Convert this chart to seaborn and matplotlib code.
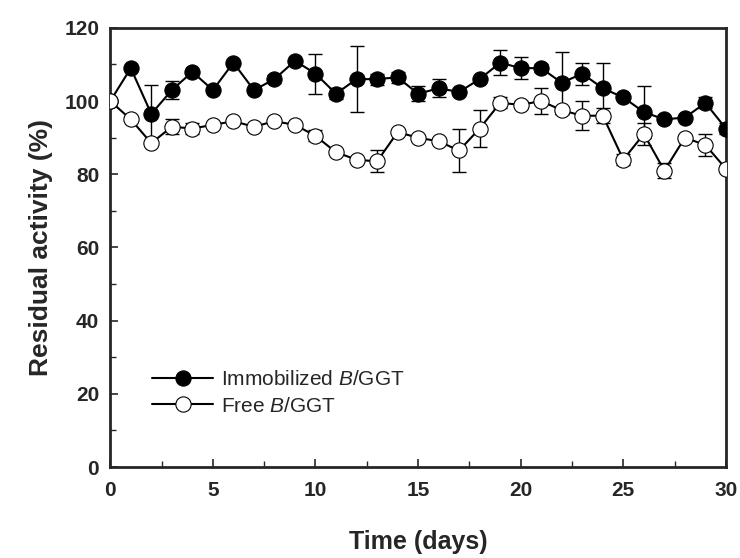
import numpy as np
import pandas as pd
import matplotlib
matplotlib.use("Agg")
import matplotlib.pyplot as plt
import seaborn as sns

# Residual activity over time
days = list(range(31))
immobilized = [100, 109, 96.5, 103, 108, 103, 110.5, 103, 106, 111, 107.5,
               102, 106, 106, 106.5, 102, 103.5, 102.5, 106, 110.5, 109,
               109, 105, 107.5, 103.5, 101, 97, 95, 95.5, 99.5, 92.5]
immobilized_err = [0, 0, 8, 2.5, 0, 0, 0, 0, 1, 0, 5.5,
                   1.5, 9, 1.5, 1.5, 2, 2.5, 0, 0, 3.5, 3,
                   1, 8.5, 3, 7, 0, 7, 0, 0, 1.5, 1.5]
free = [100, 95, 88.5, 93, 92.5, 93.5, 94.5, 93, 94.5, 93.5, 90.5,
        86, 84, 83.5, 91.5, 90, 89, 86.5, 92.5, 99.5, 99,
        100, 97.5, 96, 96, 84, 91, 81, 90, 88, 81.5]
free_err = [0, 0, 0, 2, 1.5, 0, 0, 0, 0, 0, 1.5,
            0, 0, 3, 0, 0, 0, 6, 5, 1.5, 1,
            3.5, 1, 4, 2, 1.5, 3, 2, 0, 3, 1]

df = pd.DataFrame({"day": days, "imm": immobilized, "imm_err": immobilized_err,
                   "free": free, "free_err": free_err})

sns.set_style("ticks")
plt.rcParams["font.family"] = ["Liberation Sans", "DejaVu Sans"]
plt.rcParams["mathtext.fontset"] = "custom"
plt.rcParams["mathtext.rm"] = "Liberation Sans"
plt.rcParams["mathtext.it"] = "Liberation Sans:italic"

fig = plt.figure(figsize=(7.4, 5.58), dpi=100)
ax = fig.add_axes([0.149, 0.163, 0.832, 0.787])

# error bars first, then lines/markers on top
ax.errorbar(df["day"], df["imm"], yerr=df["imm_err"], fmt="none", ecolor="black",
            elinewidth=1, capsize=5, capthick=1, zorder=1)
ax.errorbar(df["day"], df["free"], yerr=df["free_err"], fmt="none", ecolor="black",
            elinewidth=1, capsize=5, capthick=1, zorder=1)

sns.lineplot(data=df, x="day", y="imm", ax=ax, color="black", linewidth=1.5,
             marker="o", markersize=11, markerfacecolor="black",
             markeredgecolor="black", label="Immobilized $\\it{B}$/GGT", zorder=3)
sns.lineplot(data=df, x="day", y="free", ax=ax, color="black", linewidth=1.5,
             marker="o", markersize=11, markerfacecolor="white",
             markeredgecolor="black", markeredgewidth=0.8,
             label="Free $\\it{B}$/GGT", zorder=3)

ax.set_xlim(0, 30)
ax.set_ylim(0, 120)
ax.set_xticks(range(0, 31, 5))
ax.set_xticks(np.arange(2.5, 30, 5), minor=True)
ax.set_yticks(range(0, 121, 20))
ax.set_yticks(range(10, 120, 20), minor=True)
ax.tick_params(which="both", direction="in", top=False, right=False)
ax.tick_params(which="major", length=6, width=1.2, labelsize=15)
ax.tick_params(axis="x", which="major", pad=10)
ax.tick_params(axis="y", which="major", pad=8)
ax.tick_params(which="minor", length=4, width=1)
for lbl in ax.get_xticklabels() + ax.get_yticklabels():
    lbl.set_fontweight("bold")
for sp in ax.spines.values():
    sp.set_linewidth(2)
    sp.set_visible(True)

ax.set_xlabel("Time (days)", fontsize=18, fontweight="bold", labelpad=22)
ax.set_ylabel("Residual activity (%)", fontsize=19, fontweight="bold", labelpad=8)

ax.legend(loc="lower left", bbox_to_anchor=(0.055, 0.098), frameon=False,
          fontsize=15, handlelength=2.9, handletextpad=0.4, labelspacing=0.35,
          borderaxespad=0)

fig.savefig("out.png", dpi=100)
